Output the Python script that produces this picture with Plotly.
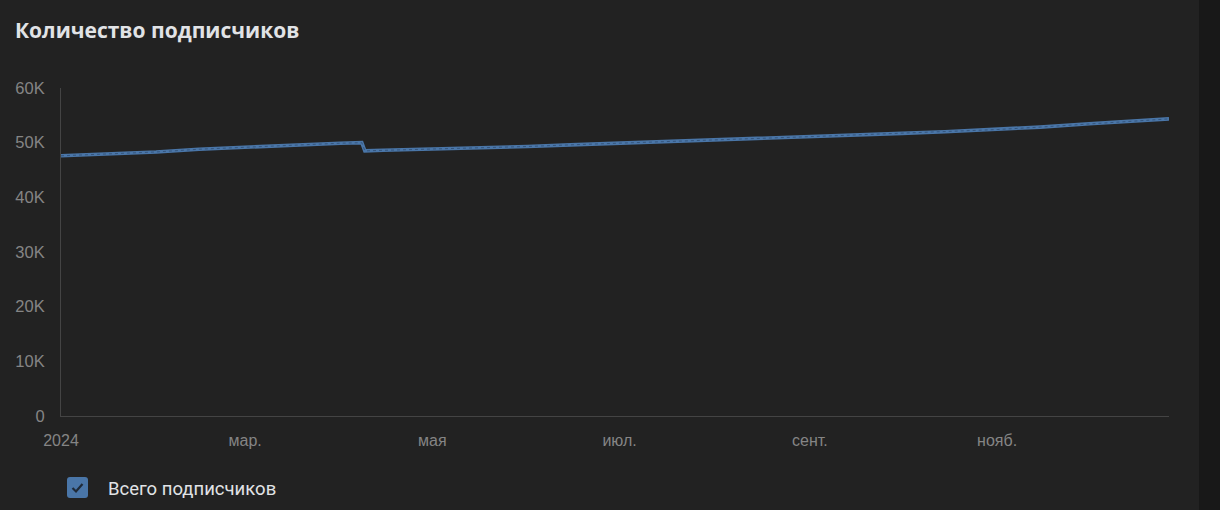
import plotly.graph_objects as go

# ---- data ----
dates = [
    "2024-01-01", "2024-01-15", "2024-02-01", "2024-02-15", "2024-03-01",
    "2024-03-15", "2024-04-01", "2024-04-08", "2024-04-09", "2024-04-15",
    "2024-05-01", "2024-05-15", "2024-06-01", "2024-06-15", "2024-07-01",
    "2024-07-15", "2024-08-01", "2024-08-15", "2024-09-01", "2024-09-15",
    "2024-10-01", "2024-10-15", "2024-11-01", "2024-11-15", "2024-12-01",
    "2024-12-15", "2024-12-27",
]
subscribers = [
    47600, 47900, 48300, 48800, 49200,
    49550, 49900, 50000, 48500, 48600,
    48800, 49050, 49300, 49600, 49900,
    50100, 50450, 50750, 51100, 51400,
    51700, 52000, 52400, 52850, 53450,
    53950, 54350,
]
x_tick_vals = ["2024-01-01", "2024-03-01", "2024-05-01", "2024-07-01", "2024-09-01", "2024-11-01"]
x_tick_text = ["2024", "мар.", "мая", "июл.", "сент.", "нояб."]
y_tick_vals = [0, 10000, 20000, 30000, 40000, 50000, 60000]
y_tick_text = ["0", "10K", "20K", "30K", "40K", "50K", "60K"]
title_text = "Количество подписчиков"
legend_text = "Всего подписчиков"

W, H = 1220, 510
L, R, T, B = 61, 1169, 88, 416  # plot area in pixels


def px(x):
    return (x - L) / (R - L)


def py(y):
    return (B - y) / (B - T)


fig = go.Figure()
fig.add_trace(go.Scatter(
    x=dates, y=subscribers, mode="lines",
    line=dict(color="#4a76a8", width=3.6, shape="linear"),
    hoverinfo="skip", showlegend=False,
))
fig.add_trace(go.Scatter(
    x=dates, y=subscribers, mode="lines",
    line=dict(color="#34557d", width=1, dash="dot"),
    hoverinfo="skip", showlegend=False,
))

# checkbox (legend)
bx0, bx1, by0, by1, r = 67, 88, 477, 498, 3
rect_path = (
    f"M {px(bx0 + r)},{py(by0)} L {px(bx1 - r)},{py(by0)} "
    f"Q {px(bx1)},{py(by0)} {px(bx1)},{py(by0 + r)} "
    f"L {px(bx1)},{py(by1 - r)} Q {px(bx1)},{py(by1)} {px(bx1 - r)},{py(by1)} "
    f"L {px(bx0 + r)},{py(by1)} Q {px(bx0)},{py(by1)} {px(bx0)},{py(by1 - r)} "
    f"L {px(bx0)},{py(by0 + r)} Q {px(bx0)},{py(by0)} {px(bx0 + r)},{py(by0)} Z"
)
check_path = f"M {px(72.5)},{py(488)} L {px(76)},{py(491.5)} L {px(82.5)},{py(484)}"

shapes = [
    # darker strip on the right
    dict(type="rect", xref="paper", yref="paper",
         x0=px(1199), x1=px(1225), y0=py(-5), y1=py(515),
         fillcolor="#181818", line=dict(width=0), layer="below"),
    dict(type="path", xref="paper", yref="paper", path=rect_path,
         fillcolor="#4a76a8", line=dict(width=0)),
    dict(type="path", xref="paper", yref="paper", path=check_path,
         line=dict(color="#1f2a38", width=2.2)),
]

annotations = [
    dict(text=title_text, xref="paper", yref="paper",
         x=px(13), y=py(30), xanchor="left", yanchor="middle", showarrow=False,
         font=dict(family="Open Sans, Roboto, sans-serif", size=21, weight=700,
                   color="#e1e3e6")),
    dict(text=legend_text, xref="paper", yref="paper",
         x=px(106), y=py(488.5), xanchor="left", yanchor="middle", showarrow=False,
         font=dict(family="Roboto, Inter, sans-serif", size=18.5, color="#e1e3e6")),
]

fig.update_layout(
    width=W, height=H,
    margin=dict(l=L, r=W - R, t=T, b=H - B, pad=0),
    paper_bgcolor="#222222", plot_bgcolor="#222222",
    shapes=shapes, annotations=annotations,
    showlegend=False,
    xaxis=dict(
        type="date", range=["2024-01-01", "2024-12-27"],
        tickvals=x_tick_vals, ticktext=x_tick_text,
        showgrid=False, zeroline=False, showline=True,
        linecolor="#444444", linewidth=1, ticks="",
        ticklabelstandoff=10,
        tickfont=dict(family="Liberation Sans, Arial, sans-serif", size=16, color="#858585"),
    ),
    yaxis=dict(
        range=[0, 60000], tickvals=y_tick_vals, ticktext=y_tick_text,
        showgrid=False, zeroline=False, showline=True,
        linecolor="#444444", linewidth=1, ticks="",
        ticklabelstandoff=12,
        tickfont=dict(family="Liberation Sans, Arial, sans-serif", size=16.5, color="#858585"),
    ),
)

fig.write_html(
    "out.html",
    config={"displayModeBar": False},
    post_script="document.body.style.margin='0';document.body.style.background='#222222';"
                "document.documentElement.style.background='#222222';",
)
